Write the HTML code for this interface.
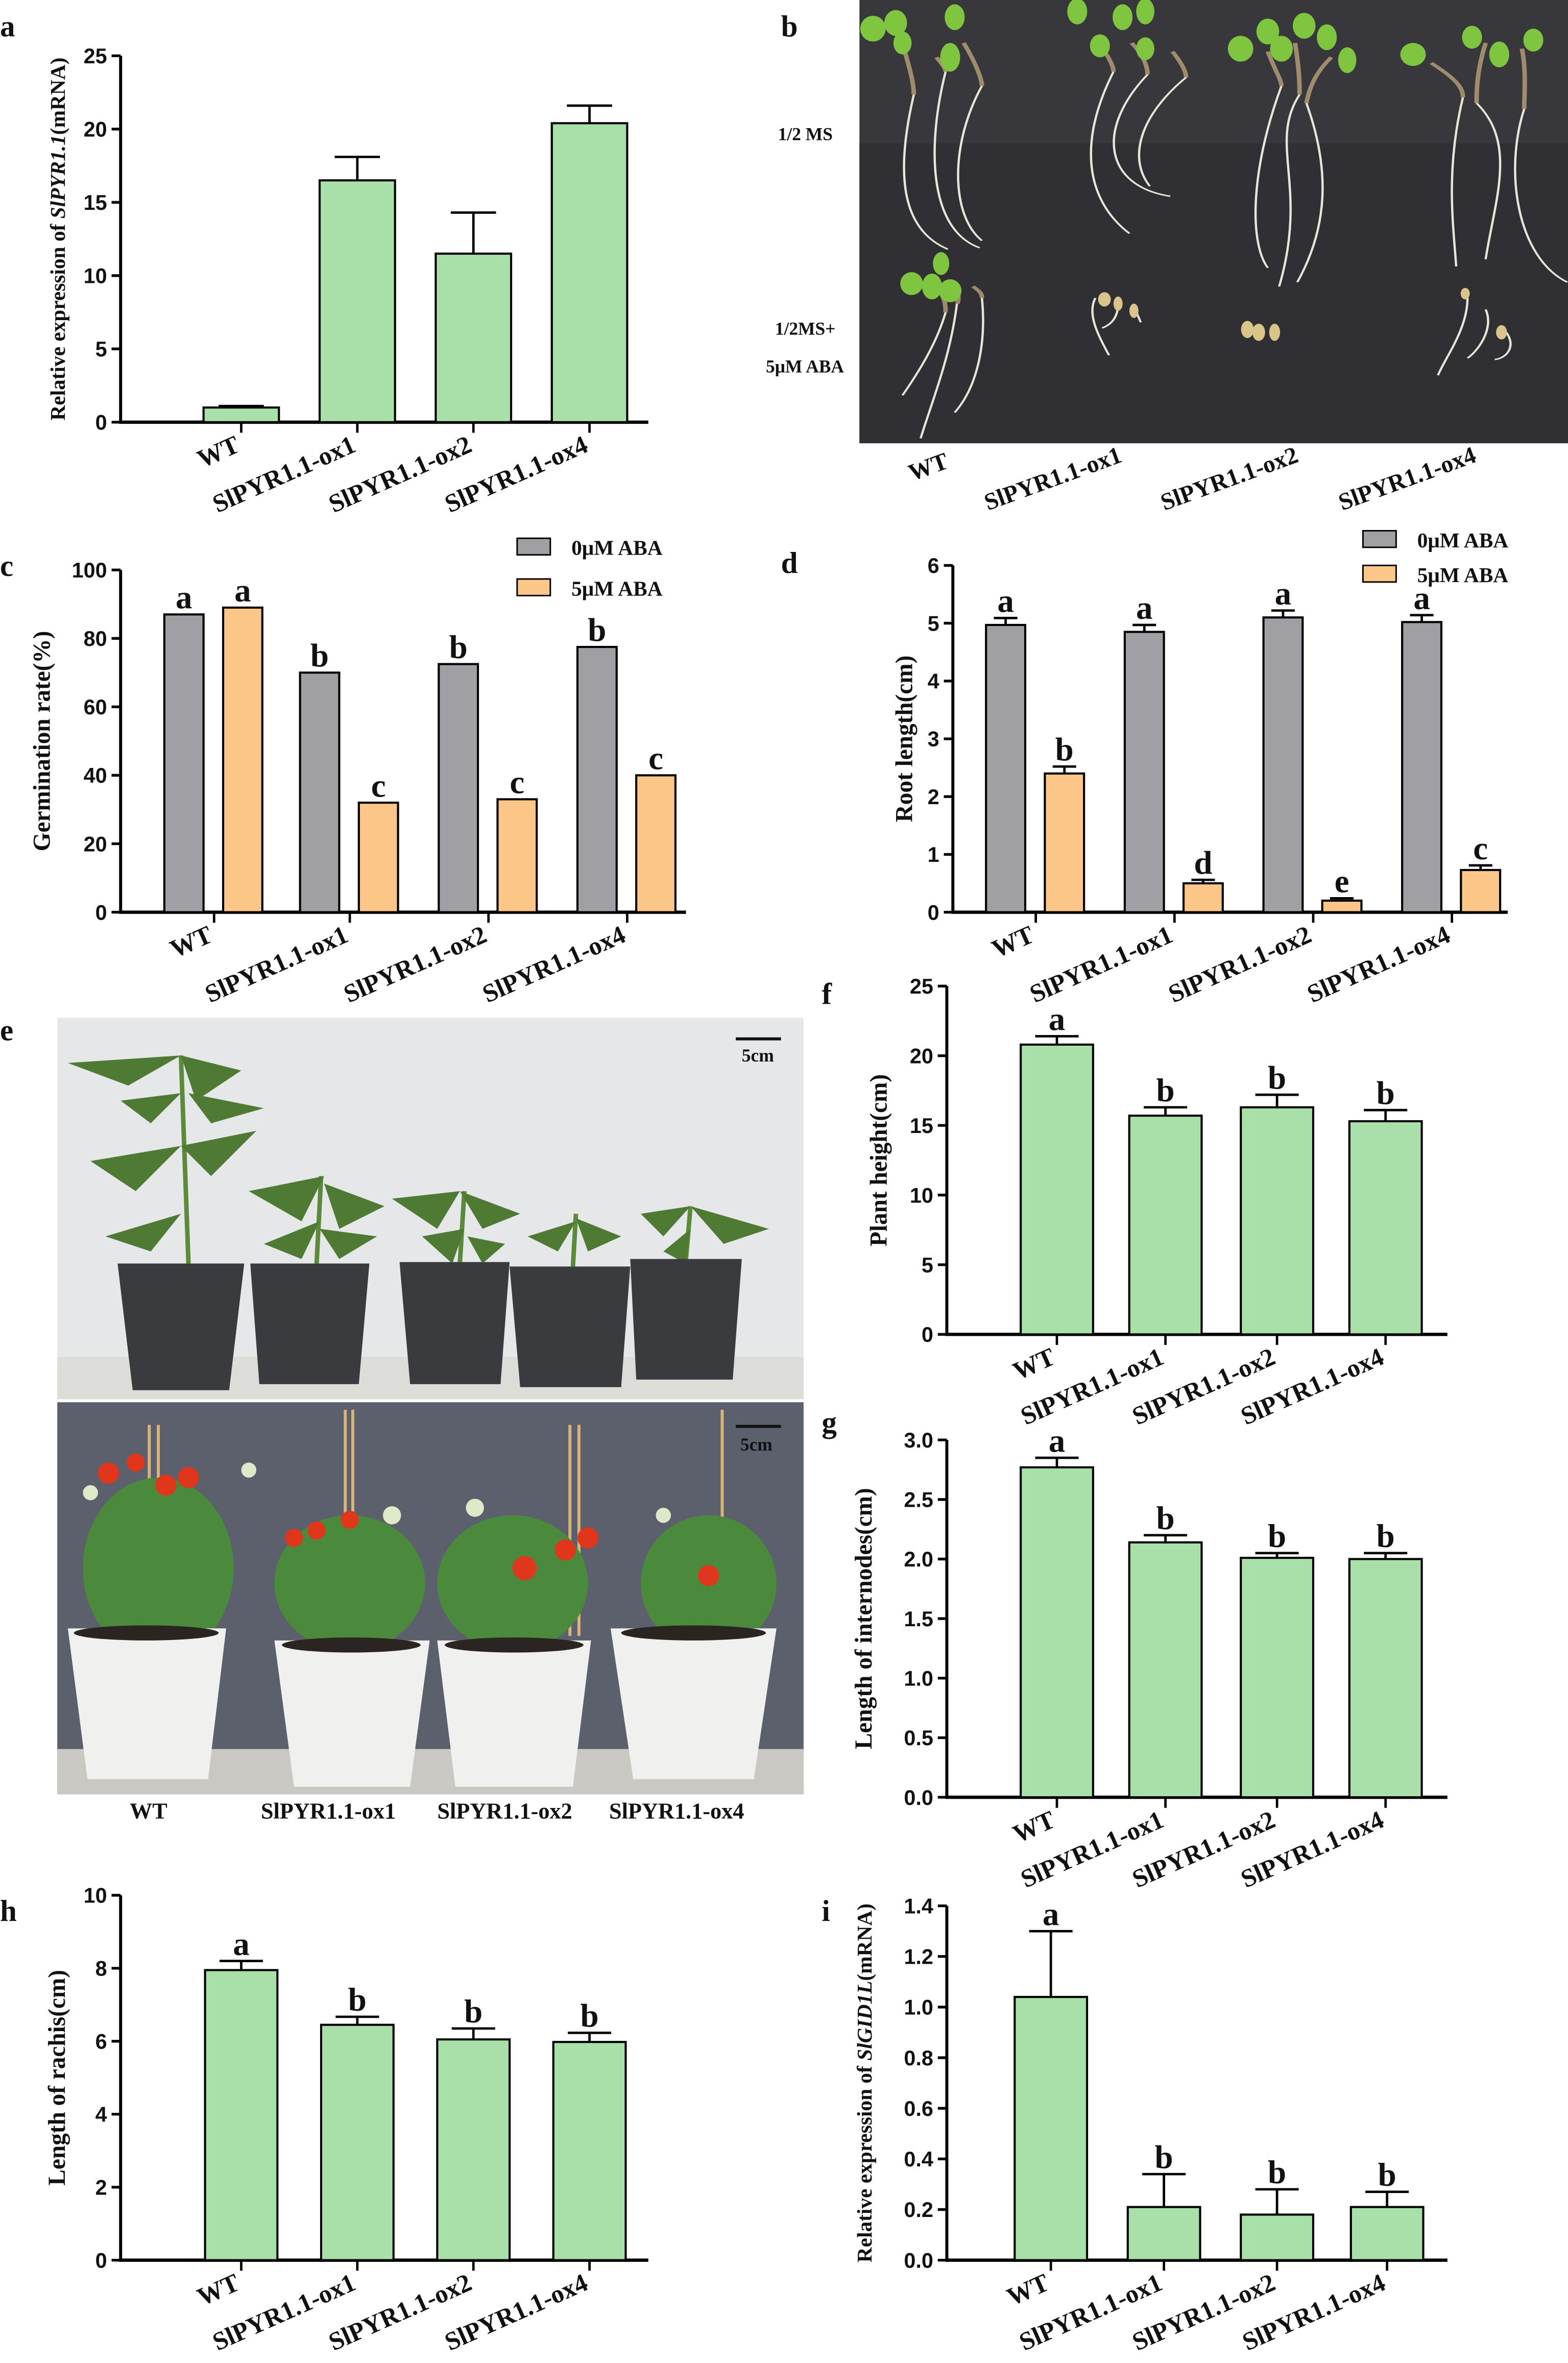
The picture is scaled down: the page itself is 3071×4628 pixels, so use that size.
<!DOCTYPE html>
<html><head><meta charset="utf-8"><style>
html,body{margin:0;padding:0;background:#fff}
svg{display:block}
text{font-family:"Liberation Serif",serif;font-weight:bold;fill:#111}
.tk{font-family:"Liberation Sans",sans-serif;font-size:14px}
</style></head><body>
<svg id="fig" width="3071" height="4628" viewBox="0 0 1040 1567.2" preserveAspectRatio="none" xmlns="http://www.w3.org/2000/svg">
<defs><clipPath id="cb"><rect x="570" y="0" width="470" height="294"/></clipPath></defs>
<!-- panel b photo -->
<g clip-path="url(#cb)">
<rect x="570" y="0" width="470" height="294" fill="#38383c"/>
<rect x="570" y="95" width="470" height="199" fill="#303034"/>
<g transform="translate(570,0) scale(0.301,0.19)">
<g stroke="#e8e6d8" stroke-width="5" fill="none">
<path d="M120 330 C80 600 90 800 195 870"/><path d="M190 250 C150 500 150 800 265 865"/><path d="M270 300 C200 500 200 750 270 840"/>
<path d="M560 250 C480 500 500 700 595 815"/><path d="M635 260 C520 450 540 650 685 685"/><path d="M720 270 C620 400 590 550 640 650"/>
<path d="M930 300 C860 600 860 850 900 935"/><path d="M970 330 C900 500 990 650 925 1000"/><path d="M985 360 C1040 600 1030 800 965 985"/>
<path d="M1330 340 C1290 600 1310 800 1315 930"/><path d="M1360 360 C1450 500 1400 700 1380 905"/><path d="M1465 380 C1420 600 1450 900 1560 985"/>
<path d="M190 1090 C170 1200 130 1300 95 1380"/><path d="M215 1060 C200 1250 160 1400 135 1530"/><path d="M270 1040 C280 1200 260 1350 210 1440"/>
<path d="M520 1040 C500 1100 530 1180 550 1240"/><path d="M570 1060 C570 1100 560 1130 535 1145"/><path d="M605 1070 L620 1125"/>
<path d="M1340 1040 C1340 1150 1290 1250 1275 1310"/><path d="M1380 1080 C1400 1150 1360 1230 1340 1250"/><path d="M1420 1150 C1450 1200 1430 1250 1400 1255"/>
</g>
<g stroke="#b9a07a" stroke-width="10" fill="none" opacity="0.8">
<path d="M100 180 C115 260 120 300 120 330"/><path d="M170 200 C185 230 190 240 190 250"/><path d="M230 150 C260 230 270 280 270 300"/>
<path d="M520 130 C550 200 560 230 560 250"/><path d="M600 150 C630 200 635 240 635 260"/><path d="M690 180 C710 220 720 250 720 270"/>
<path d="M900 180 C920 260 930 280 930 300"/><path d="M960 150 C970 250 970 300 970 330"/><path d="M1040 200 C1000 260 990 320 985 360"/>
<path d="M1260 220 C1320 280 1330 310 1330 340"/><path d="M1380 150 C1360 250 1360 320 1360 360"/><path d="M1460 170 C1470 250 1465 330 1465 380"/>
<path d="M170 1000 C190 1040 190 1070 190 1090"/><path d="M210 1000 C225 1040 215 1060 215 1060"/><path d="M250 1000 C270 1020 270 1030 270 1040"/>
</g>
<g fill="#7fc540">
<ellipse cx="30" cy="100" rx="28" ry="45"/><ellipse cx="80" cy="80" rx="25" ry="45"/><ellipse cx="210" cy="60" rx="22" ry="45"/><ellipse cx="200" cy="200" rx="22" ry="50"/><ellipse cx="95" cy="150" rx="20" ry="40"/>
<ellipse cx="480" cy="40" rx="22" ry="45"/><ellipse cx="580" cy="60" rx="22" ry="45"/><ellipse cx="630" cy="40" rx="20" ry="45"/><ellipse cx="530" cy="160" rx="22" ry="40"/><ellipse cx="630" cy="170" rx="20" ry="40"/>
<ellipse cx="840" cy="170" rx="28" ry="45"/><ellipse cx="900" cy="110" rx="25" ry="45"/><ellipse cx="930" cy="170" rx="25" ry="45"/><ellipse cx="980" cy="90" rx="25" ry="45"/><ellipse cx="1030" cy="130" rx="22" ry="45"/><ellipse cx="1075" cy="210" rx="20" ry="45"/>
<ellipse cx="1220" cy="190" rx="28" ry="40"/><ellipse cx="1350" cy="130" rx="22" ry="40"/><ellipse cx="1410" cy="190" rx="22" ry="45"/><ellipse cx="1485" cy="140" rx="22" ry="40"/>
<ellipse cx="115" cy="990" rx="25" ry="40"/><ellipse cx="160" cy="1000" rx="22" ry="45"/><ellipse cx="180" cy="920" rx="18" ry="40"/><ellipse cx="200" cy="1015" rx="25" ry="40"/>
</g>
<g fill="#d9c58a"><ellipse cx="540" cy="1045" rx="14" ry="25"/><ellipse cx="570" cy="1060" rx="10" ry="25"/><ellipse cx="605" cy="1085" rx="10" ry="25"/><ellipse cx="855" cy="1150" rx="14" ry="30"/><ellipse cx="880" cy="1160" rx="14" ry="30"/><ellipse cx="915" cy="1160" rx="12" ry="30"/><ellipse cx="1335" cy="1025" rx="10" ry="20"/><ellipse cx="1415" cy="1160" rx="12" ry="25"/></g>
</g>
</g>
<text x="516" y="93" font-size="12">1/2 MS</text>
<text x="514" y="222" font-size="12">1/2MS+</text>
<text x="508" y="247" font-size="12">5μM ABA</text>
<g font-size="16">
<text transform="translate(630,310) rotate(-20)" text-anchor="end">WT</text>
<text transform="translate(745,306) rotate(-20)" text-anchor="end">SlPYR1.1-ox1</text>
<text transform="translate(862,306) rotate(-20)" text-anchor="end">SlPYR1.1-ox2</text>
<text transform="translate(980,306) rotate(-20)" text-anchor="end">SlPYR1.1-ox4</text>
</g>
<!-- panel e photo -->
<g>
<rect x="38" y="675" width="495" height="253" fill="#e6e7e9"/>
<rect x="38" y="900" width="495" height="28" fill="#dcdcd8"/>
<g stroke="#5a8a3a" stroke-width="3" fill="none">
<path d="M125 838 L120 700"/><path d="M210 838 L213 780"/><path d="M305 838 L308 790"/><path d="M380 840 L382 805"/><path d="M455 835 L458 800"/>
</g>
<g fill="#4f7a33">
<path d="M45 705 L120 700 L85 720Z"/><path d="M120 700 L160 710 L130 730Z"/><path d="M60 770 L120 760 L90 790Z"/><path d="M120 760 L170 750 L140 780Z"/><path d="M70 820 L120 805 L100 830Z"/>
<path d="M80 730 L120 725 L100 745Z"/><path d="M125 725 L175 735 L140 745Z"/>
<path d="M165 790 L215 780 L200 810Z"/><path d="M215 785 L255 800 L225 815Z"/><path d="M175 825 L212 810 L200 835Z"/><path d="M212 815 L250 820 L225 835Z"/>
<path d="M260 795 L305 790 L290 815Z"/><path d="M305 790 L345 805 L320 815Z"/><path d="M280 820 L308 815 L300 838Z"/><path d="M310 820 L335 825 L320 838Z"/>
<path d="M350 820 L382 810 L370 830Z"/><path d="M382 808 L412 820 L390 830Z"/>
<path d="M425 805 L458 800 L440 820Z"/><path d="M458 800 L510 815 L480 825Z"/><path d="M440 830 L458 815 L455 838Z"/>
</g>
<g fill="#3a3b3e">
<path d="M78 838 L162 838 L152 922 L88 922Z"/><path d="M166 838 L245 838 L238 918 L172 918Z"/><path d="M265 837 L338 837 L332 918 L272 918Z"/><path d="M338 840 L418 840 L412 920 L345 920Z"/><path d="M418 835 L492 835 L486 915 L422 915Z"/>
</g>
<rect x="38" y="930" width="495" height="260" fill="#5c606c"/>
<rect x="38" y="1160" width="495" height="30" fill="#c9c8c3"/>
<g fill="#d8b47a"><rect x="98" y="945" width="2" height="140"/><rect x="104" y="945" width="2" height="140"/><rect x="228" y="935" width="2" height="150"/><rect x="233" y="935" width="2" height="150"/><rect x="377" y="945" width="2" height="140"/><rect x="383" y="945" width="2" height="140"/><rect x="478" y="935" width="2" height="150"/></g>
<g fill="#4b8a3c">
<ellipse cx="105" cy="1040" rx="50" ry="60"/><ellipse cx="232" cy="1050" rx="50" ry="45"/><ellipse cx="340" cy="1050" rx="50" ry="45"/><ellipse cx="470" cy="1050" rx="45" ry="45"/>
</g>
<g fill="#f0f0ee">
<path d="M45 1080 L150 1080 L138 1180 L58 1180Z"/><path d="M182 1088 L285 1088 L272 1185 L195 1185Z"/><path d="M290 1088 L392 1088 L380 1185 L302 1185Z"/><path d="M405 1080 L515 1080 L500 1180 L420 1180Z"/>
</g>
<g fill="#2a2520"><ellipse cx="97" cy="1083" rx="48" ry="5"/><ellipse cx="233" cy="1091" rx="46" ry="5"/><ellipse cx="341" cy="1091" rx="46" ry="5"/><ellipse cx="460" cy="1083" rx="48" ry="5"/></g>
<g fill="#e0361c"><circle cx="72" cy="977" r="7"/><circle cx="90" cy="970" r="6"/><circle cx="110" cy="985" r="7"/><circle cx="125" cy="980" r="7"/><circle cx="195" cy="1020" r="6"/><circle cx="210" cy="1015" r="6"/><circle cx="232" cy="1008" r="6"/><circle cx="348" cy="1040" r="8"/><circle cx="375" cy="1028" r="7"/><circle cx="390" cy="1020" r="7"/><circle cx="470" cy="1045" r="7"/></g>
<g fill="#dfe8c8"><circle cx="60" cy="990" r="5"/><circle cx="165" cy="975" r="5"/><circle cx="260" cy="1005" r="6"/><circle cx="315" cy="1000" r="6"/><circle cx="440" cy="1005" r="5"/></g>
<rect x="488" y="688" width="30" height="2" fill="#111"/><rect x="488" y="945" width="30" height="2" fill="#111"/>
</g>
<text x="492" y="704" font-size="12">5cm</text>
<text x="491" y="962" font-size="12">5cm</text>
<g font-size="15">
<text x="86" y="1206">WT</text><text x="173" y="1206">SlPYR1.1-ox1</text><text x="290" y="1206">SlPYR1.1-ox2</text><text x="404" y="1206">SlPYR1.1-ox4</text>
</g>
<!-- panel letters -->
<g font-size="20">
<text x="0" y="24" font-weight="normal">a</text><text x="518" y="24" font-weight="normal">b</text><text x="0" y="382" font-weight="normal">c</text><text x="518" y="380" font-weight="normal">d</text>
<text x="0" y="690" font-weight="normal">e</text><text x="545" y="666" font-weight="normal">f</text><text x="545" y="950" font-weight="normal">g</text><text x="0" y="1274" font-weight="normal">h</text><text x="545" y="1274" font-weight="normal">i</text>
</g>
<g id="charts"></g>
</svg>
<script>
const cats = ["WT","SlPYR1.1-ox1","SlPYR1.1-ox2","SlPYR1.1-ox4"];
const aVals = [1.0,16.5,11.5,20.4];
const aErr = [0.1,1.6,2.8,1.2];
const aTicks = [0,5,10,15,20,25];
const cGray = [87,70,72.5,77.5];
const cOrange = [89,32,33,40];
const cLetters = ["a","a","b","c","b","c","b","c"];
const cTicks = [0,20,40,60,80,100];
const dGray = [4.97,4.85,5.1,5.02];
const dGrayErr = [0.12,0.12,0.12,0.12];
const dOrange = [2.4,0.5,0.2,0.73];
const dOrangeErr = [0.12,0.06,0.04,0.08];
const dLetters = ["a","b","a","d","a","e","a","c"];
const dTicks = [0,1,2,3,4,5,6];
const fVals = [20.8,15.7,16.3,15.3];
const fErr = [0.6,0.6,0.9,0.8];
const fTicks = [0,5,10,15,20,25];
const gVals = [2.77,2.14,2.01,2.00];
const gErr = [0.08,0.06,0.04,0.05];
const gTicks = [0,0.5,1.0,1.5,2.0,2.5,3.0];
const hVals = [7.95,6.45,6.05,5.98];
const hErr = [0.25,0.22,0.3,0.25];
const hTicks = [0,2,4,6,8,10];
const iVals = [1.04,0.21,0.18,0.21];
const iErr = [0.26,0.13,0.1,0.06];
const iTicks = [0,0.2,0.4,0.6,0.8,1.0,1.2,1.4];
const sigLetters = ["a","b","b","b"];

const NS="http://www.w3.org/2000/svg";
const root=document.getElementById('charts');
function mk(tag,attrs,parent,txt){const e=document.createElementNS(NS,tag);for(const k in attrs)e.setAttribute(k,attrs[k]);if(txt!==undefined)e.textContent=txt;(parent||root).appendChild(e);return e;}

function chart(o){
  const g=mk('g',{});
  
  
  const max=o.ticks[o.ticks.length-1];
  const y=v=>o.y0-(v/max)*(o.y0-o.yTop);
  const ax=mk('line',{x1:o.ax,y1:o.y0+1,x2:o.ax,y2:o.yTop,stroke:'#000','stroke-width':2},g);
  
  
  const xa=mk('line',{x1:o.ax-1,y1:o.y0,x2:o.xEnd,y2:o.y0,stroke:'#000','stroke-width':2.2},g);
  
  
  o.ticks.forEach(t=>{
    mk('line',{x1:o.ax-6,y1:y(t),x2:o.ax,y2:y(t),stroke:'#000','stroke-width':1.8},g);
    const tl=mk('text',{x:o.ax-9,y:y(t)+5,'text-anchor':'end',class:'tk'},g,o.fmt?t.toFixed(1):String(t));
    
    
  });
  o.series.forEach((s)=>{
    const off=s.off||0;
    s.vals.forEach((v,i)=>{
      const cx=o.centers[i]+off;
      const bw=o.bw;
      if(s.err){
        const e=s.err[i];
        mk('line',{x1:cx,y1:y(v),x2:cx,y2:y(v+e),stroke:'#000','stroke-width':1.6},g);
        mk('line',{x1:cx-bw*0.3,y1:y(v+e),x2:cx+bw*0.3,y2:y(v+e),stroke:'#000','stroke-width':1.6},g);
      }
      const r=mk('rect',{x:cx-bw/2,y:y(v),width:bw,height:o.y0-y(v),fill:s.color,stroke:'#000','stroke-width':1.4},g);
      
      
      if(s.letters){
        const top=v+(s.err?s.err[i]:0);
        const lt=mk('text',{x:cx,y:y(top)-4,'text-anchor':'middle','font-size':22,'font-weight':'normal'},g,s.letters[i]);
        
        
      }
    });
  });
  cats.forEach((c,i)=>{
    const tx0=o.centers[i]+o.tickOff;
    mk('line',{x1:tx0,y1:o.y0,x2:tx0,y2:o.y0+7,stroke:'#000','stroke-width':1.6},g);
    const lx=o.centers[i]+o.labOff, ly=o.y0+19;
    const t=mk('text',{transform:`translate(${lx},${ly}) rotate(-24)`,'text-anchor':'end','font-size':17},g,c);
    
    
  });
  const tx=o.ax-o.titleDx, ty=(o.y0+o.yTop)/2;
  const tt=mk('text',{transform:`translate(${tx},${ty}) rotate(-90)`,'text-anchor':'middle','font-size':o.titleSize||16},g);
  
  
  o.title.forEach(p=>{mk('tspan',p.it?{'font-style':'italic'}:{},tt,p.t);});
}

chart({name:'chart-a-expression',ax:80,y0:280,yTop:37,xEnd:430,ticks:aTicks,centers:[160,237,314,391],bw:50,labOff:0,tickOff:0,titleDx:37,titleSize:14,
  series:[{key:'a',vals:aVals,err:aErr,color:'#a9dfa9'}],
  title:[{t:'Relative expression of '},{t:'SlPYR1.1',it:1},{t:'(mRNA)'}]});
chart({name:'chart-c-germination',ax:80,y0:605,yTop:378,xEnd:455,ticks:cTicks,centers:[122,212,304,396],bw:26,labOff:20,tickOff:20,titleDx:47,
  series:[{key:'c-0uM',vals:cGray,color:'#a0a0a4',off:0,letters:[0,1,2,3].map(i=>cLetters[i*2])},{key:'c-5uM',vals:cOrange,color:'#fcc688',off:39,letters:[0,1,2,3].map(i=>cLetters[i*2+1])}],
  title:[{t:'Germination rate(%)'}]});
chart({name:'chart-d-root-length',ax:632,y0:605,yTop:375,xEnd:1000,ticks:dTicks,centers:[667,759,851,943],bw:26,labOff:20,tickOff:20,titleDx:27,
  series:[{key:'d-0uM',vals:dGray,err:dGrayErr,color:'#a0a0a4',off:0,letters:[0,1,2,3].map(i=>dLetters[i*2])},{key:'d-5uM',vals:dOrange,err:dOrangeErr,color:'#fcc688',off:39,letters:[0,1,2,3].map(i=>dLetters[i*2+1])}],
  title:[{t:'Root length(cm)'}]});
chart({name:'chart-f-plant-height',ax:628,y0:885,yTop:654,xEnd:960,ticks:fTicks,centers:[701,773,847,919],bw:48,labOff:0,tickOff:0,titleDx:40,
  series:[{key:'f',vals:fVals,err:fErr,color:'#a9dfa9',letters:sigLetters}],title:[{t:'Plant height(cm)'}]});
chart({name:'chart-g-internode-length',ax:628,y0:1192,yTop:955,xEnd:960,ticks:gTicks,fmt:1,centers:[701,773,847,919],bw:48,labOff:0,tickOff:0,titleDx:50,
  series:[{key:'g',vals:gVals,err:gErr,color:'#a9dfa9',letters:sigLetters}],title:[{t:'Length of internodes(cm)'}]});
chart({name:'chart-h-rachis-length',ax:80,y0:1499,yTop:1257,xEnd:430,ticks:hTicks,centers:[160,237,314,391],bw:48,labOff:0,tickOff:0,titleDx:37,
  series:[{key:'h',vals:hVals,err:hErr,color:'#a9dfa9',letters:sigLetters}],title:[{t:'Length of rachis(cm)'}]});
chart({name:'chart-i-gid1l-expression',ax:628,y0:1499,yTop:1264,xEnd:960,ticks:iTicks,fmt:1,centers:[697,772,847,920],bw:48,labOff:0,tickOff:0,titleDx:50,titleSize:14,
  series:[{key:'i',vals:iVals,err:iErr,color:'#a9dfa9',letters:sigLetters}],title:[{t:'Relative expression of '},{t:'SlGID1L',it:1},{t:'(mRNA)'}]});

[[343,357,'#a0a0a4','0μM ABA'],[343,384,'#fcc688','5μM ABA'],[904,352,'#a0a0a4','0μM ABA'],[904,375,'#fcc688','5μM ABA']].forEach(l=>{
  const r=mk('rect',{x:l[0],y:l[1],width:22,height:11,fill:l[2],stroke:'#000','stroke-width':1});
  
  
  const t=mk('text',{x:l[0]+36,y:l[1]+11,'font-size':14},root,l[3]);
  
  
});
</script>
</body></html>
